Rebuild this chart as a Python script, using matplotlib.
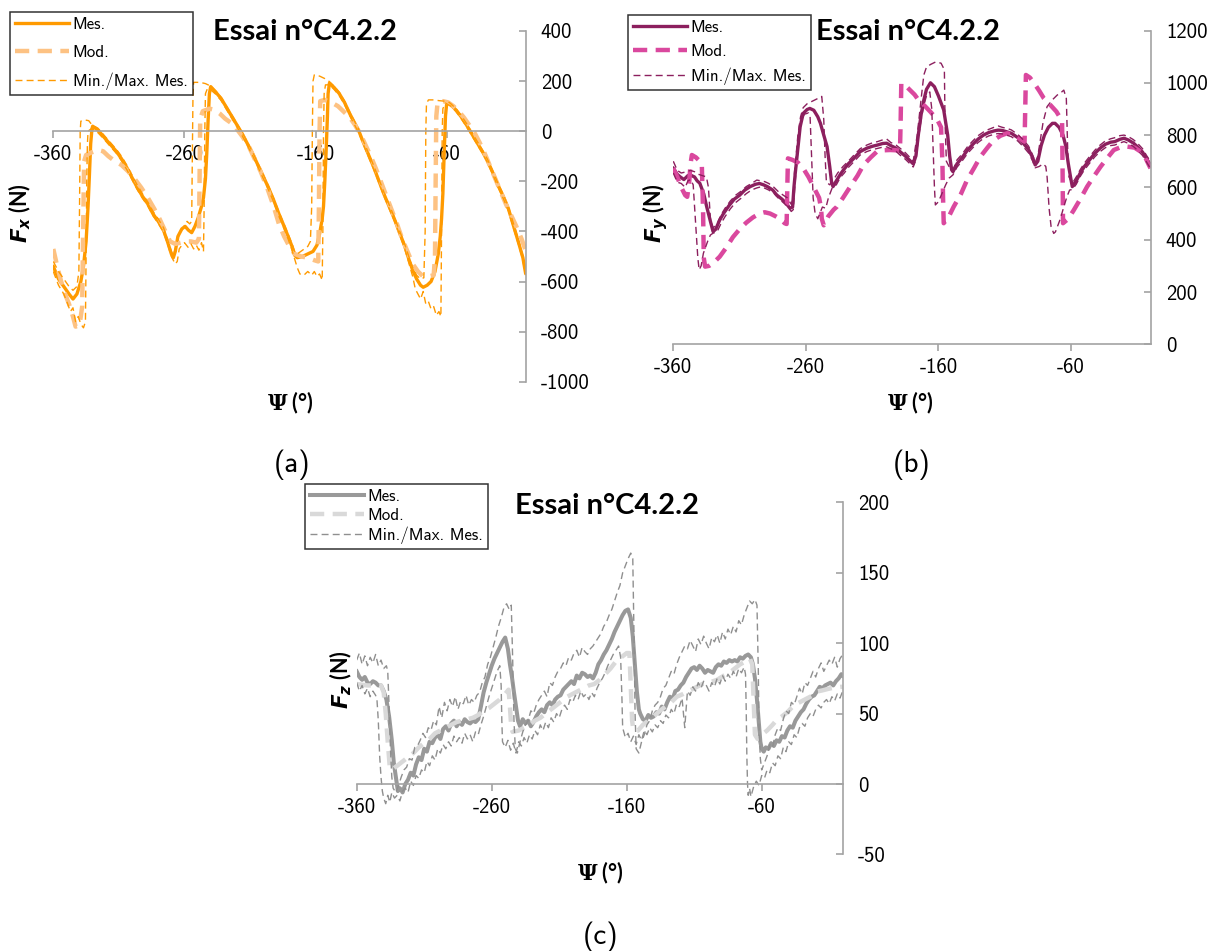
import numpy as np
import matplotlib
matplotlib.use("Agg")
import matplotlib.pyplot as plt
from matplotlib.ticker import FixedLocator

plt.rcParams["axes.unicode_minus"] = False

# ---------------- données Fx (a) ----------------
fx_mes_psi = [-360, -356, -352, -348, -345, -342, -339, -337, -335, -333.5, -332.5, -331.5, -330.5, -330,
              -326, -322, -317, -312, -308, -304, -300, -296, -292, -288, -284, -280, -276, -273, -270,
              -268.5, -267, -265, -262, -259.5, -257, -254.5, -252, -249.5, -247, -245.5, -244, -243, -242,
              -241, -240, -236, -232, -228, -224, -220, -216, -212, -208, -204, -200, -196, -192, -188,
              -184, -181, -178, -176, -174, -170, -166, -162, -159, -157, -155, -154, -153, -152, -151,
              -150.5, -149.5, -146, -142, -138, -134, -130, -127, -124, -120, -116, -112, -108, -104, -100,
              -96, -92, -89, -86, -83, -80, -78, -75, -72, -69, -66.5, -65, -64, -63, -62, -61, -60, -57,
              -53, -49, -45, -41, -37, -33, -29, -25, -21, -17, -13, -9, -5, -2, 0]
fx_mes = [-540, -590, -620, -650, -670, -650, -600, -540, -440, -300, -180, -50, 10, 20,
          5, -20, -50, -80, -110, -145, -185, -225, -260, -290, -330, -360, -395, -440, -490,
          -505, -480, -420, -390, -380, -395, -405, -380, -345, -300, -265, -190, -90, 40,
          150, 178, 155, 130, 95, 60, 25, -10, -50, -90, -135, -180, -225, -275, -330,
          -380, -420, -460, -495, -505, -500, -490, -480, -455, -410, -350, -300, -200, -80, 60,
          150, 192, 175, 150, 115, 70, 30, 0, -40, -90, -140, -195, -250, -300, -350,
          -405, -460, -510, -555, -590, -615, -623, -615, -600, -560, -490, -420, -350, -250, -90, 60, 115, 105,
          85, 57, 25, -10, -45, -80, -118, -165, -215, -260, -310, -380, -450, -505, -565]

fx_mod_psi = [-360, -357, -354, -351, -348, -345, -343, -340, -338, -337.5, -337, -336.5, -335, -331, -326,
              -322, -318, -313, -308, -303, -298, -293, -288, -283, -279, -275, -271, -267, -263, -259,
              -255, -251, -249, -248.5, -248, -246, -241, -237, -233, -229, -225, -221, -216, -211, -207,
              -202, -197, -192, -188, -184, -180, -176, -171, -166, -161, -158, -157.5, -157, -156.5, -153,
              -148, -143, -139, -134, -130, -126, -122, -118, -114, -110, -106, -102, -98, -94, -90, -86,
              -82, -78, -74, -70, -69, -68.5, -68, -67, -63, -59, -55, -51, -47, -43, -39, -35, -31, -27,
              -23, -19, -15, -11, -7, -3, 0]
fx_mod = [-470, -540, -600, -650, -690, -740, -780, -775, -700, -500, -300, -120, -95, -85, -75,
          -80, -100, -120, -135, -160, -190, -225, -265, -310, -350, -395, -440, -450, -445, -440,
          -440, -445, -430, -200, 50, 80, 90, 85, 70, 50, 35, 15, -20, -60, -105,
          -160, -225, -300, -370, -420, -460, -490, -500, -505, -515, -520, -300, 0, 120, 125,
          115, 100, 80, 55, 25, -10, -55, -100, -150, -205, -260, -315, -370, -430, -480, -530,
          -560, -580, -580, -575, -500, -200, 60, 115, 120, 115, 100, 80, 55, 25, -5, -45, -90, -140,
          -190, -240, -290, -335, -380, -430, -475]

fx_max_psi = [-360, -356, -352, -348, -345, -342, -340.5, -340, -339.5, -339, -336, -333, -330.5, -326, -322,
              -317, -312, -308, -304, -300, -296, -292, -288, -284, -280, -276, -273, -270, -268.5, -267,
              -264, -261, -258, -256, -254.5, -254, -253.5, -253, -248, -244, -240, -236, -232, -228, -224,
              -220, -216, -212, -208, -204, -200, -196, -192, -188, -184, -181, -178, -176, -174, -170,
              -166, -164, -163, -162.5, -162, -161, -157, -153, -150, -146, -142, -138, -134, -130, -127,
              -124, -120, -116, -112, -108, -104, -100, -96, -92, -89, -86, -83, -80, -77.5, -76.5, -76,
              -75.5, -74, -70, -66, -62, -59, -57, -53, -49, -45, -41, -37, -33, -29, -25, -21, -17, -13,
              -9, -5, -2, 0]
fx_max = [-520, -560, -590, -620, -635, -620, -560, -300, 0, 40, 45, 42, 25, 12, -12,
          -42, -72, -100, -135, -175, -215, -250, -282, -320, -350, -385, -430, -480, -495, -470,
          -410, -385, -360, -370, -360, -100, 150, 195, 195, 190, 180, 160, 135, 100, 66,
          30, -5, -44, -84, -128, -172, -218, -268, -322, -372, -410, -450, -480, -490, -475,
          -460, -440, -300, 0, 200, 225, 220, 210, 200, 180, 156, 120, 76, 36, 6,
          -34, -84, -134, -188, -243, -293, -343, -398, -452, -500, -545, -575, -590, -585, -400, 0,
          110, 125, 125, 122, 120, 118, 110, 90, 63, 31, -4, -39, -74, -112, -158, -208, -252, -302,
          -372, -442, -498, -550]

fx_min_psi = [-360, -356, -352, -349, -347, -345, -343, -341, -339, -337, -335.5, -335, -334.5, -334, -333.5,
              -331, -328, -322, -317, -312, -308, -304, -300, -296, -292, -288, -284, -280, -276, -273,
              -270, -267, -265.5, -264, -262, -260, -257, -255, -253, -251, -249, -247, -245.5, -245, -244.5,
              -244, -242.5, -240, -236, -232, -228, -224, -220, -216, -212, -208, -204, -200, -196, -192,
              -188, -184, -181, -178, -176, -174, -172, -169, -166, -163, -161, -159, -157, -155, -154.5,
              -154, -153.5, -152.5, -149.5, -146, -142, -138, -134, -130, -127, -124, -120, -116, -112, -108,
              -104, -100, -96, -92, -89, -86, -84, -82, -80, -78, -76, -74, -72, -70, -68, -66, -64.5,
              -64, -63.5, -63, -61, -57, -53, -49, -45, -41, -37, -33, -29, -25, -21, -17, -13, -9, -5, -2, 0]
fx_min = [-560, -615, -650, -690, -720, -705, -760, -740, -770, -785, -760, -500, -200, -50, 0,
          10, 5, -28, -58, -88, -118, -153, -193, -233, -268, -298, -338, -368, -403, -448,
          -500, -530, -520, -470, -455, -445, -465, -450, -470, -455, -475, -445, -480, -300, 0,
          150, 170, 165, 147, 122, 87, 52, 17, -18, -58, -98, -143, -188, -233, -283,
          -340, -390, -430, -475, -510, -545, -570, -575, -560, -575, -560, -580, -570, -595, -400,
          0, 150, 185, 185, 167, 142, 107, 62, 22, -8, -48, -98, -148, -203, -258,
          -308, -358, -413, -470, -525, -580, -630, -650, -670, -640, -690, -680, -710, -700, -735, -720, -740,
          -400, 0, 90, 112, 100, 78, 50, 18, -17, -52, -87, -125, -172, -222, -268, -318, -390, -458, -515, -575]

# ---------------- données Fy (b) ----------------
fy_mes_psi = [-360, -357, -355, -352, -349, -347, -344, -342, -340, -337, -334.8, -332, -330, -328, -325,
              -322, -318, -314, -310, -306, -302, -298, -295, -292, -289, -285, -282, -278, -275, -272,
              -270, -269, -268, -266, -264.3, -262, -259, -257, -254, -251, -249, -246.5, -244, -242,
              -240.5, -239.5, -237, -234, -231.6, -228, -224, -219, -214, -210, -206, -202, -199, -196,
              -192, -189, -185, -181, -179, -177, -175, -173, -171, -169, -166, -163, -160, -156, -153,
              -151.5, -150, -149, -146, -142, -138, -134, -130, -126, -122, -118, -115, -112, -108, -105,
              -100, -96, -92, -89, -87, -85, -82.5, -80, -77, -74, -72, -69, -66, -64, -62, -60, -59, -56,
              -53, -50, -46, -42, -38, -34, -30, -27, -23, -20, -17, -13, -10, -6, -3, 0]
fy_mes = [673, 650, 641, 630, 645, 647, 640, 625, 616, 575, 526, 470, 431, 440, 475,
          501, 530, 555, 570, 590, 603, 612, 615, 610, 603, 590, 571, 555, 540, 520,
          525, 600, 654, 750, 832, 883, 898, 902, 895, 870, 845, 800, 756, 680,
          616, 603, 625, 650, 667, 690, 710, 737, 750, 757, 762, 768, 769, 760,
          750, 737, 720, 700, 690, 720, 807, 880, 934, 975, 1000, 985, 950, 896, 800,
          720, 667, 660, 690, 715, 743, 765, 785, 800, 810, 816, 819, 818, 812, 807,
          790, 769, 745, 715, 686, 700, 760, 800, 830, 845, 845, 830, 800, 760, 690, 630, 603, 625,
          655, 679, 705, 730, 750, 765, 773, 775, 784, 788, 782, 770, 756, 735, 710, 686]

fy_mod_psi = [-360, -357, -354, -351, -349.5, -348, -347, -346, -343, -340, -338.5, -337.5, -337, -336, -333,
              -329, -325, -320, -315, -310, -305, -300, -295, -291, -287, -283, -279, -276, -274.5, -274,
              -273.5, -270, -266, -262, -258, -254, -250, -248.5, -248, -246.5, -243, -239, -236.6, -232,
              -226.5, -221, -216.5, -211, -206.4, -201, -196.3, -192, -189, -188.5, -188, -185, -182, -178,
              -175, -170, -166, -161, -158, -157, -156.5, -156, -152, -148.5, -143, -138.4, -133, -128.4,
              -123, -118.3, -113, -108.2, -104, -100.6, -96, -95, -94.5, -94, -91, -88, -84, -80.5, -75.5,
              -71, -68, -66.7, -66.3, -66, -62, -57.9, -53, -47.8, -43, -37.7, -33, -27.7, -22, -17.6,
              -12, -7.5, -4, 0]
fy_mod = [673, 640, 600, 570, 564, 620, 690, 724, 715, 700, 690, 500, 330, 297, 300,
          315, 335, 370, 410, 440, 465, 485, 500, 505, 500, 490, 478, 463, 460, 600,
          711, 705, 695, 673, 640, 600, 560, 520, 480, 455, 490, 515, 526, 560,
          603, 645, 686, 715, 737, 742, 743, 742, 740, 850, 998, 990, 975, 955,
          934, 910, 889, 860, 830, 700, 560, 463, 490, 526, 575, 628, 675, 717,
          752, 781, 798, 807, 803, 794, 778, 775, 900, 1030, 1020, 1000, 970, 941, 915,
          890, 865, 850, 650, 463, 480, 513, 555, 603, 640, 679, 710, 743, 755, 756,
          752, 737, 715, 673]

fy_max_psi = [-360, -357, -354, -350, -347, -344, -341, -338, -335, -333.5, -332, -330, -327, -324, -321,
              -317, -313, -309, -305, -301, -297, -294, -291, -288, -284, -281, -277, -274, -271, -269.5,
              -268.5, -266, -264, -262, -259, -255, -251, -248, -246.5, -245.5, -244.5, -242, -239, -236,
              -232, -228, -224, -219, -214, -210, -206, -202, -199, -196, -192, -189, -185, -181, -179,
              -176, -173, -171, -169, -166, -162, -158, -155.5, -155, -154, -151, -149, -146, -142, -138,
              -134, -130, -126, -122, -118, -115, -112, -108, -105, -100, -96, -92, -89, -87, -85, -81,
              -78, -74, -70.4, -67, -65.4, -63.5, -62.5, -61.5, -59, -56, -53, -50, -46, -42, -38, -34,
              -30, -27, -23, -20, -17, -13, -10, -6, -3, 0]
fy_max = [700, 665, 655, 660, 665, 660, 650, 645, 640, 600, 480, 445, 460, 495, 520,
          548, 570, 585, 603, 615, 628, 625, 622, 615, 600, 585, 570, 560, 535, 560,
          660, 800, 870, 905, 920, 930, 940, 948, 860, 720, 620, 610, 630, 655,
          680, 700, 722, 748, 762, 770, 775, 782, 785, 772, 762, 750, 733, 712, 700,
          800, 940, 1030, 1060, 1070, 1080, 1075, 1050, 850, 700, 670, 666, 705, 728, 756,
          778, 798, 812, 822, 830, 835, 830, 825, 820, 802, 782, 758, 725, 695, 720, 850,
          909, 935, 953, 965, 972, 940, 750, 640, 615, 640, 668, 692, 718, 742, 762, 778,
          786, 790, 798, 800, 795, 783, 770, 748, 722, 700]

fy_min_psi = [-360, -357, -354, -351, -349, -347, -345, -343, -341.5, -340.5, -339, -337.3, -334, -332, -330,
              -327, -324, -321, -317, -313, -309, -305, -301, -297, -294, -291, -288, -284, -281, -277,
              -274, -271, -269.5, -268.5, -267, -265, -263, -261, -258, -256.8, -255.5, -254.5, -253, -251,
              -249.5, -247.5, -245, -243, -240, -237, -234, -231, -228, -224, -219, -214, -210, -206, -202,
              -199, -196, -192, -189, -185, -181, -179, -177, -175, -173, -171, -169, -166.5, -165, -164,
              -163, -162.3, -160, -157, -154.5, -152, -149, -146, -142, -138, -134, -130, -126, -122, -118,
              -115, -112, -108, -105, -100, -96, -92, -89, -87, -84, -81, -79, -78, -76.5, -75, -73, -71.7,
              -68, -65.4, -63, -61, -59, -56, -53, -50, -46, -42, -38, -34, -30, -27, -23, -20, -17, -13,
              -10, -6, -3, 0]
fy_min = [655, 620, 615, 600, 625, 630, 610, 450, 330, 285, 300, 348, 395, 418, 425,
          430, 462, 488, 518, 542, 558, 576, 590, 598, 602, 597, 590, 577, 560, 542,
          528, 508, 515, 590, 690, 800, 865, 880, 885, 870, 700, 560, 500, 480,
          500, 525, 520, 560, 600, 610, 638, 655, 676, 697, 724, 737, 744, 749, 754,
          755, 748, 738, 724, 708, 688, 678, 705, 790, 860, 915, 950, 965, 900, 750,
          600, 533, 545, 580, 610, 635, 648, 677, 702, 730, 752, 772, 787, 797, 803,
          806, 805, 799, 794, 777, 756, 732, 702, 675, 680, 690, 680, 640, 520, 450, 424, 430,
          480, 526, 565, 590, 592, 612, 642, 666, 692, 717, 737, 752, 760, 762, 770, 775, 769, 757,
          743, 722, 697, 672]

# ---------------- données Fz (c) ----------------
fz_mes_psi = [-360, -358, -356, -354, -352, -350, -348, -346, -344, -342, -340, -338, -336, -334, -332.5,
              -331, -329.5, -328, -326, -324, -322, -320, -318, -316, -314, -312, -310, -308, -306, -304,
              -302, -300, -298, -296, -294, -292, -290, -288, -286, -284, -282, -280, -278, -276, -274,
              -272, -270, -268, -266, -264, -262, -260, -258, -256, -254, -252, -250, -248, -246.5, -245,
              -243.5, -242, -240.5, -239, -237, -235, -233, -231, -229, -227, -225, -223, -221, -219, -217,
              -215, -213, -211, -209, -207, -205, -203, -201, -199, -197, -195, -193, -191, -189, -187,
              -185, -183, -181, -179, -177, -175, -173, -171, -169, -167, -165, -163, -161, -159, -157,
              -155.5, -154, -152.5, -151, -150, -148, -146, -144, -142, -140, -138, -136, -134, -132, -130,
              -128, -126, -124, -122, -120, -118, -116, -114, -112, -110, -108, -106, -104, -102, -100,
              -98, -96, -94, -92, -90, -88, -86, -84, -82, -80, -78, -76, -74, -72, -70, -68, -66.5, -65,
              -63.5, -62, -61, -60, -58.5, -57, -55, -53, -51, -49, -47, -45, -43, -41, -39, -37, -35, -33,
              -31, -29, -27, -25, -23, -21, -19, -17, -15, -13, -11, -9, -7, -5, -3, -1, 0]
fz_mes = [80, 76, 74, 76, 72, 71, 73, 72, 70, 70, 66, 60, 48, 31, 15,
          5, -5, -3, -6, 0, 3, 8, 6, 14, 19, 17, 25, 23, 30, 29,
          33, 35, 32, 39, 41, 38, 43, 45, 41, 44, 42, 46, 44, 43, 45,
          44, 46, 55, 65, 72, 78, 84, 89, 93, 97, 101, 104, 96, 85, 76,
          65, 55, 45, 41, 46, 43, 45, 41, 44, 48, 51, 53, 51, 56, 58,
          56, 60, 62, 63, 67, 69, 71, 73, 71, 77, 75, 79, 78, 76, 77,
          75, 79, 85, 88, 92, 95, 99, 103, 108, 112, 116, 120, 123, 124, 118,
          105, 85, 66, 53, 50, 46, 45, 49, 47, 48, 51, 50, 55, 53, 58,
          62, 60, 66, 67, 70, 72, 76, 79, 82, 83, 81, 84, 82, 79, 81,
          80, 79, 83, 85, 84, 87, 86, 88, 87, 88, 87, 90, 89, 91, 92, 90, 85, 75,
          60, 42, 30, 25, 23, 26, 25, 29, 27, 31, 30, 34, 33, 38, 41, 40, 45, 48,
          51, 53, 57, 60, 62, 63, 66, 69, 68, 70, 71, 72, 70, 73, 75, 78, 77]

fz_mod_psi = [-360, -352, -346, -342, -340, -338.5, -337, -335.5, -334, -330, -326, -322, -318, -314, -310,
              -306, -302, -298, -294, -290, -286, -282, -278, -274, -270, -266, -262, -258, -254, -250,
              -247.5, -246.5, -245.5, -244.5, -240, -236, -232, -228, -224, -220, -216, -212, -208, -204,
              -200, -196, -192, -188, -184, -180, -176, -172, -168, -164, -160, -158, -157, -156, -155,
              -151.6, -148, -144, -140, -137.8, -134, -130, -126, -122.9, -118, -114, -108, -104, -100, -96,
              -93, -88, -84, -80, -76, -72, -68.7, -67, -66, -65, -63, -60, -56, -52, -48.9, -45, -41, -37,
              -34, -30, -26, -22, -19.3, -15, -11, -6, -1.5, 0]
fz_mod = [71, 70, 70, 70, 65, 50, 30, 12, 10, 13, 16, 19, 22, 26, 29,
          32, 36, 38, 40, 42, 44, 45, 46, 47, 49, 52, 54, 57, 60, 64,
          67, 55, 40, 37, 38, 40, 42, 45, 47, 50, 53, 56, 59, 62,
          64, 66, 68, 70, 71, 74, 78, 82, 87, 90, 93, 93, 70, 45, 38,
          38, 42, 45, 48, 50, 53, 56, 59, 62, 64, 66, 69, 71, 72, 73,
          74, 77, 79, 82, 85, 87, 89, 85, 60, 35, 32, 35, 38, 42, 45.5, 48, 51, 55,
          57, 59, 61, 63, 65.6, 66.5, 67.5, 68.5, 69, 69]

fz_max_psi = [-360, -358, -356, -354, -352, -350, -348, -346, -344, -342, -340, -338, -337, -336, -335,
              -334, -333, -331, -329, -327, -325, -323, -321, -319, -317, -315, -313, -311, -309, -307,
              -305, -303, -301, -299, -297, -295, -293, -291, -289, -287, -285, -283, -281, -279, -277,
              -275, -273, -271, -269, -267, -265, -263, -261, -259, -257, -255, -253, -251, -249, -247,
              -245.5, -244.5, -243.5, -242.5, -241, -239, -237, -235, -233, -231, -229, -227, -225, -223,
              -221, -219, -217, -215, -213, -211, -209, -207, -205, -203, -201, -199, -197, -195, -193,
              -191, -189, -187, -185, -183, -181, -179, -177, -175, -173, -171, -169, -167, -165, -163,
              -161, -159, -157, -155.5, -154.5, -153.8, -153, -151, -149, -147, -145, -143, -141, -139,
              -137, -135, -133, -131, -129, -127, -125, -123, -121, -119, -117, -115, -113, -111, -109,
              -107, -105, -103, -101, -99, -97, -95, -93, -91, -89, -87, -85, -83, -81, -79, -77, -75,
              -73, -71, -69, -67, -65, -63.5, -62.5, -62, -61, -60, -58, -56, -54, -52, -50, -48, -46,
              -44, -42, -40, -38, -36, -34, -32, -30, -28, -26, -24, -22, -20, -18, -16, -14, -12, -10,
              -8, -6, -4, -2, 0]
fz_max = [88, 93, 85, 91, 84, 90, 86, 92, 84, 88, 82, 84, 80, 55, 25,
          5, -3, -6, -1, 5, 10, 12, 18, 17, 26, 27, 31, 36, 33, 40,
          38, 45, 42, 55, 47, 58, 52, 60, 55, 62, 53, 59, 57, 63, 56,
          60, 58, 63, 65, 72, 76, 85, 90, 97, 104, 112, 118, 125, 128, 124,
          127, 90, 45, 25, 22, 30, 37, 42, 45, 52, 50, 56, 60, 63,
          66, 62, 72, 70, 76, 80, 82, 86, 84, 90, 88, 93, 95, 90, 97,
          94, 92, 96, 98, 101, 104, 107, 112, 115, 120, 124, 130, 136, 141, 150,
          155, 160, 164, 160, 100, 50, 25, 22, 30, 35, 42, 45, 52, 56,
          58, 62, 68, 70, 75, 80, 78, 85, 90, 94, 98, 96, 102, 98, 94,
          103, 99, 105, 100, 96, 104, 101, 106, 100, 108, 103, 110, 106, 112, 108, 116, 113,
          120, 125, 130, 128, 131, 127, 80, 40, 18, 10, 15, 20, 28, 26, 35, 40, 38,
          46, 52, 50, 58, 56, 62, 68, 64, 72, 70, 75, 80, 76, 82, 86, 80, 84, 88,
          85, 90, 83, 89, 92]

fz_min_psi = [-360, -358, -356, -354, -352, -350, -348, -346, -345, -344, -343, -342, -341, -340, -338.5,
              -337, -335.5, -334, -332, -330, -328, -326, -324, -322, -320, -318, -316, -314, -312, -310,
              -308, -306, -304, -302, -300, -298, -296, -294, -292, -290, -288, -286, -284, -282, -280,
              -278, -276, -274, -272, -270, -268, -266, -264, -262, -260, -258, -256, -254, -253, -252.5,
              -252, -250, -248, -246, -244, -242, -240, -238, -236, -234, -232, -230, -228, -226, -224,
              -222, -220, -218, -216, -214, -212, -210, -208, -206, -204, -202, -200, -198, -196, -194,
              -192, -190, -188, -186, -184, -182, -180, -178, -176, -174, -172, -170, -168, -166, -164.5,
              -163.5, -163, -161, -159, -157, -155, -153, -151, -149, -147, -145, -143, -141, -139, -137,
              -135, -133, -131, -129, -127, -125, -123, -121, -119, -117, -115, -113, -111, -109, -107,
              -105, -103, -101, -99, -97, -95, -93, -91, -89, -87, -85, -83, -81, -79, -77, -75, -73, -72,
              -71.5, -71, -70.5, -70, -69, -68, -66, -64, -62, -60, -58, -56, -54, -52, -50, -48, -46, -44,
              -42, -40, -38, -36, -34, -32, -30, -28, -26, -24, -22, -20, -18, -16, -14, -12, -10, -8, -6,
              -4, -2, 0]
fz_min = [72, 66, 70, 64, 68, 62, 66, 63, 60, 45, 20, 5, -5, -10, -14,
          -8, -13, -6, -10, -8, -12, -5, -3, -6, 2, -1, 6, 4, 10, 8,
          16, 13, 20, 17, 25, 22, 28, 25, 30, 27, 34, 30, 33, 29, 36,
          32, 35, 30, 37, 35, 42, 48, 55, 62, 68, 74, 80, 84, 70, 45,
          30, 26, 31, 24, 29, 22, 30, 27, 33, 29, 35, 32, 38, 35, 42,
          38, 44, 40, 47, 44, 50, 47, 53, 56, 53, 60, 58, 63, 60, 66,
          62, 64, 60, 65, 62, 68, 72, 75, 79, 84, 88, 92, 95, 98, 90,
          60, 40, 33, 36, 30, 34, 28, 35, 31, 38, 35, 40, 37, 42, 40,
          45, 43, 49, 47, 53, 50, 57, 55, 61, 40, 66, 63, 69, 66, 72,
          68, 73, 70, 66, 72, 69, 75, 71, 77, 73, 78, 75, 80, 76, 82, 79, 83, 78,
          55, 20, 0, -8, -3, -9, -2, 2, -1, 6, 4, 10, 8, 15, 13, 20, 18, 26,
          23, 30, 28, 35, 33, 40, 43, 41, 47, 50, 48, 53, 56, 54, 58, 60, 57, 62, 59,
          64, 61, 66]

# ---------------- mise en page ----------------
W, H = 1219, 951
fig = plt.figure(figsize=(W / 100, H / 100), dpi=100)


def fx(px):
    return px / W


def fy(py):
    return 1 - py / H


tick_font = {"family": "cmss10", "size": 15}
axis_gray = "#A3A3A3"


def make_axes(x0, x1, y_top, y_bot, ymin, ymax, yticks):
    ax = fig.add_axes([fx(x0), fy(y_bot), fx(x1) - fx(x0), fy(y_top) - fy(y_bot)])
    ax.set_xlim(-360, 0)
    ax.set_ylim(ymin, ymax)
    ax.spines["left"].set_visible(False)
    ax.spines["top"].set_visible(False)
    ax.spines["right"].set_color(axis_gray)
    ax.spines["right"].set_linewidth(1.2)
    ax.spines["bottom"].set_color(axis_gray)
    ax.spines["bottom"].set_linewidth(1.2)
    ax.spines["bottom"].set_position(("data", 0))
    ax.yaxis.tick_right()
    ax.xaxis.set_major_locator(FixedLocator([-360, -260, -160, -60]))
    ax.set_xticklabels(["-360", "-260", "-160", "-60"], fontdict=tick_font)
    ax.yaxis.set_major_locator(FixedLocator(yticks))
    ax.set_yticklabels([str(v) for v in yticks], fontdict=tick_font)
    ax.tick_params(axis="x", direction="out", length=5, width=1.2, color=axis_gray, pad=5)
    ax.tick_params(axis="y", direction="in", length=5, width=1.2, color=axis_gray, pad=11)
    ax.patch.set_alpha(0)
    return ax


def draw_panel(ax, data, colors, lw_mes):
    (mes_x, mes_y), (mod_x, mod_y), (min_x, min_y), (max_x, max_y) = data
    c_mes, c_mod, c_mm = colors
    ax.plot(mes_x, mes_y, color=c_mes, lw=lw_mes, label="Mes.", solid_joinstyle="round")
    ax.plot(mod_x, mod_y, color=c_mod, lw=3.2, dashes=(3.2, 1.9), label="Mod.")
    ax.plot(min_x, min_y, color=c_mm, lw=1.0, dashes=(5, 3), label="Min./Max. Mes.")
    ax.plot(max_x, max_y, color=c_mm, lw=1.0, dashes=(5, 3), label="_nolegend_")


def add_legend(ax, x0, y0, spacing):
    leg = ax.legend(loc="upper left", bbox_to_anchor=(fx(x0), fy(y0)), bbox_transform=fig.transFigure,
                    prop={"family": "cmss10", "size": 12.2}, frameon=True, fancybox=False,
                    edgecolor="black", handlelength=3.2, handletextpad=0.2, borderpad=0.3,
                    labelspacing=spacing, borderaxespad=0)
    leg.get_frame().set_linewidth(1.1)


title_kw = dict(family="Lato", fontweight="bold", fontsize=21, ha="center", va="center")
label_kw = dict(family="Lato", fontweight="bold", fontsize=15.5, ha="center", va="center")
letter_kw = dict(family="cmss10", fontsize=21, ha="center", va="center")

# (a) Fx
ax_a = make_axes(53.3, 525.5, 31, 381.7, -1000, 400, [-1000, -800, -600, -400, -200, 0, 200, 400])
draw_panel(ax_a, [(fx_mes_psi, fx_mes), (fx_mod_psi, fx_mod), (fx_min_psi, fx_min), (fx_max_psi, fx_max)],
           ("#FF9A00", "#FDC283", "#FF9A00"), 2.4)
add_legend(ax_a, 10, 12, 0.75)
fig.text(fx(305), fy(32), "Essai n°C4.2.2", **title_kw)
fig.text(fx(20), fy(213), r"$\mathbfit{F_x}$ (N)", rotation=90, math_fontfamily="dejavusans", **label_kw)
fig.text(fx(290), fy(403), r"$\mathbf{\Psi}$ (°)", math_fontfamily="dejavuserif", **label_kw)
fig.text(fx(292), fy(465), "(a)", **letter_kw)

# (b) Fy
ax_b = make_axes(673.3, 1150.5, 30.5, 344.3, 0, 1200, [0, 200, 400, 600, 800, 1000, 1200])
draw_panel(ax_b, [(fy_mes_psi, fy_mes), (fy_mod_psi, fy_mod), (fy_min_psi, fy_min), (fy_max_psi, fy_max)],
           ("#8C1F5E", "#DA489E", "#8C1F5E"), 2.4)
add_legend(ax_b, 628, 15, 0.5)
fig.text(fx(908), fy(32), "Essai n°C4.2.2", **title_kw)
fig.text(fx(655), fy(213), r"$\mathbfit{F_y}$ (N)", rotation=90, math_fontfamily="dejavusans", **label_kw)
fig.text(fx(910), fy(403), r"$\mathbf{\Psi}$ (°)", math_fontfamily="dejavuserif", **label_kw)
fig.text(fx(912), fy(465), "(b)", **letter_kw)

# (c) Fz
ax_c = make_axes(356.7, 842.7, 502.4, 854.4, -50, 200, [-50, 0, 50, 100, 150, 200])
draw_panel(ax_c, [(fz_mes_psi, fz_mes), (fz_mod_psi, fz_mod), (fz_min_psi, fz_min), (fz_max_psi, fz_max)],
           ("#999999", "#D9D9D9", "#8F8F8F"), 2.9)
add_legend(ax_c, 305, 484, 0.22)
fig.text(fx(607), fy(506), "Essai n°C4.2.2", **title_kw)
fig.text(fx(341), fy(680), r"$\mathbfit{F_z}$ (N)", rotation=90, math_fontfamily="dejavusans", **label_kw)
fig.text(fx(600), fy(873), r"$\mathbf{\Psi}$ (°)", math_fontfamily="dejavuserif", **label_kw)
fig.text(fx(601), fy(937), "(c)", **letter_kw)

fig.savefig("out.png", dpi=100)
